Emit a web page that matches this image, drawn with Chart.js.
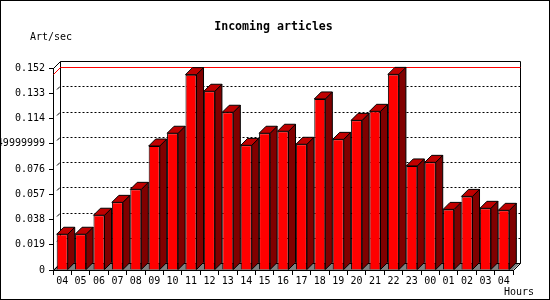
<!DOCTYPE html>
<html>
<head>
<meta charset="utf-8">
<script src="https://cdn.jsdelivr.net/npm/chart.js@4/dist/chart.umd.min.js"></script>
<style>
  html, body { margin: 0; padding: 0; background: #fff; }
  canvas { display: block; }
</style>
</head>
<body>
<canvas id="c" width="550" height="300"></canvas>
<script>
// ---- data ----
const categories = ['04','05','06','07','08','09','10','11','12','13','14','15','16',
                    '17','18','19','20','21','22','23','00','01','02','03','04'];
const articlesPerSec = [0.0269, 0.0269, 0.0412, 0.0509, 0.0607, 0.0933, 0.1029, 0.1470,
                        0.1345, 0.1187, 0.0938, 0.1029, 0.1044, 0.0946, 0.1287, 0.0983,
                        0.1126, 0.1194, 0.1472, 0.0783, 0.0810, 0.0456, 0.0554, 0.0464, 0.0449];
const yTickValues = [0, 0.019, 0.038, 0.057, 0.076, 0.095, 0.114, 0.133, 0.152];
const yTickLabels = ['0', '0.019', '0.038', '0.057', '0.076', '0.0949999999', '0.114', '0.133', '0.152'];
const chartTitle = 'Incoming articles';
const yAxisTitle = 'Art/sec';
const xAxisTitle = 'Hours';

// ---- styling ----
const FONT = "'DejaVu Sans Mono', 'Liberation Mono', monospace";
const D = 7; // 3D depth
const px = v => Math.round(v) + 0.5;

Chart.defaults.color = '#000';
Chart.defaults.font.family = FONT;
Chart.defaults.font.size = 10;

const threeD = {
  id: 'threeD',
  beforeDatasetsDraw(chart) {
    const { ctx, chartArea: a, scales: { y } } = chart;
    const L = Math.round(a.left), R = Math.round(a.right), T = Math.round(a.top), B = Math.round(a.bottom);
    ctx.save();
    ctx.lineWidth = 1;
    // floor
    ctx.fillStyle = '#808080';
    ctx.beginPath();
    ctx.moveTo(L, B); ctx.lineTo(R, B); ctx.lineTo(R + D, B - D); ctx.lineTo(L + D, B - D);
    ctx.closePath(); ctx.fill();
    // gridlines on back wall
    ctx.strokeStyle = '#000';
    ctx.setLineDash([2, 2]);
    yTickValues.forEach(v => {
      if (v === 0 || v === yTickValues[yTickValues.length - 1]) return;
      const yb = px(y.getPixelForValue(v) - D);
      ctx.beginPath(); ctx.moveTo(L + D + 2.5, yb); ctx.lineTo(R + D, yb); ctx.stroke();
    });
    ctx.setLineDash([]);
    // left wall tick marks
    yTickValues.forEach(v => {
      if (v === 0 || v === yTickValues[yTickValues.length - 1]) return;
      const yb = Math.round(y.getPixelForValue(v) - D);
      ctx.beginPath(); ctx.moveTo(L + D - 3, yb + 3.5); ctx.lineTo(L + D, yb + 0.5); ctx.stroke();
    });
    // back frame + wall edges
    ctx.beginPath();
    ctx.rect(L + D + 0.5, T - D + 0.5, R - L, B - T);
    ctx.moveTo(L + 0.5, T + 0.5); ctx.lineTo(L + D + 0.5, T - D + 0.5);
    ctx.moveTo(L + 0.5, B + 0.5); ctx.lineTo(L + D + 0.5, B - D + 0.5);
    ctx.moveTo(R + 0.5, B + 0.5); ctx.lineTo(R + D + 0.5, B - D + 0.5);
    ctx.stroke();
    // max value line
    const ym = Math.round(y.getPixelForValue(Math.max(...articlesPerSec)));
    ctx.strokeStyle = '#ff0000';
    ctx.beginPath();
    ctx.moveTo(L + 0.5, ym + 0.5); ctx.lineTo(L + D + 0.5, ym - D + 0.5); ctx.lineTo(R + D + 0.5, ym - D + 0.5);
    ctx.stroke();
    ctx.restore();
  },
  afterDatasetsDraw(chart) {
    const { ctx } = chart;
    const meta = chart.getDatasetMeta(0);
    ctx.save();
    ctx.lineWidth = 1;
    ctx.strokeStyle = '#000';
    meta.data.forEach(el => {
      const p = el.getProps(['x', 'y', 'base', 'width'], true);
      const l = p.x - p.width / 2, r = p.x + p.width / 2;
      const t = p.y, b = p.base;
      // side
      ctx.fillStyle = '#800000';
      ctx.beginPath();
      ctx.moveTo(r, t); ctx.lineTo(r + D, t - D); ctx.lineTo(r + D, b - D); ctx.lineTo(r, b);
      ctx.closePath(); ctx.fill(); ctx.stroke();
      // top
      ctx.fillStyle = '#c00000';
      ctx.beginPath();
      ctx.moveTo(l, t); ctx.lineTo(l + D, t - D); ctx.lineTo(r + D, t - D); ctx.lineTo(r, t);
      ctx.closePath(); ctx.fill(); ctx.stroke();
    });
    ctx.restore();
  },
  afterDraw(chart) {
    const { ctx } = chart;
    ctx.save();
    ctx.fillStyle = '#000';
    ctx.textBaseline = 'middle';
    ctx.font = "bold 11.6px " + FONT;
    ctx.textAlign = 'center';
    ctx.fillText(chartTitle, 273.5, 27);
    ctx.font = "10px " + FONT;
    ctx.textAlign = 'left';
    ctx.fillText(yAxisTitle, 30, 37);
    ctx.fillText(xAxisTitle, 504, 292);
    ctx.strokeStyle = '#000';
    ctx.lineWidth = 1;
    ctx.strokeRect(0.5, 0.5, 549, 299);
    ctx.restore();
  }
};

new Chart(document.getElementById('c'), {
  type: 'bar',
  data: {
    labels: categories,
    datasets: [{
      data: articlesPerSec,
      backgroundColor: '#ff0000',
      borderColor: '#000',
      borderWidth: 1,
      barPercentage: 0.6,
      categoryPercentage: 1.0
    }]
  },
  options: {
    responsive: false,
    devicePixelRatio: 1,
    animation: false,
    layout: { padding: { left: 0, right: 37, top: 68, bottom: 0 } },
    plugins: { legend: { display: false }, title: { display: false }, tooltip: { enabled: false } },
    scales: {
      x: {
        type: 'category',
        offset: true,
        grid: { offset: true, drawOnChartArea: false, drawTicks: true, tickLength: 5, color: '#000' },
        border: { display: true, color: '#000' },
        ticks: { padding: 0, autoSkip: false, maxRotation: 0, minRotation: 0, color: '#000', font: { family: FONT, size: 10 } },
        afterFit(scale) { scale.height = 30; }
      },
      y: {
        type: 'linear',
        min: 0,
        max: yTickValues[yTickValues.length - 1],
        afterBuildTicks(scale) { scale.ticks = yTickValues.map(v => ({ value: v })); },
        grid: { drawOnChartArea: false, drawTicks: true, tickLength: 4, color: '#000' },
        border: { display: true, color: '#000' },
        ticks: {
          padding: 4,
          color: '#000',
          font: { family: FONT, size: 10 },
          callback: (v, i) => yTickLabels[i]
        },
        afterFit(scale) { scale.width = 53; }
      }
    }
  },
  plugins: [threeD]
});
</script>
</body>
</html>
